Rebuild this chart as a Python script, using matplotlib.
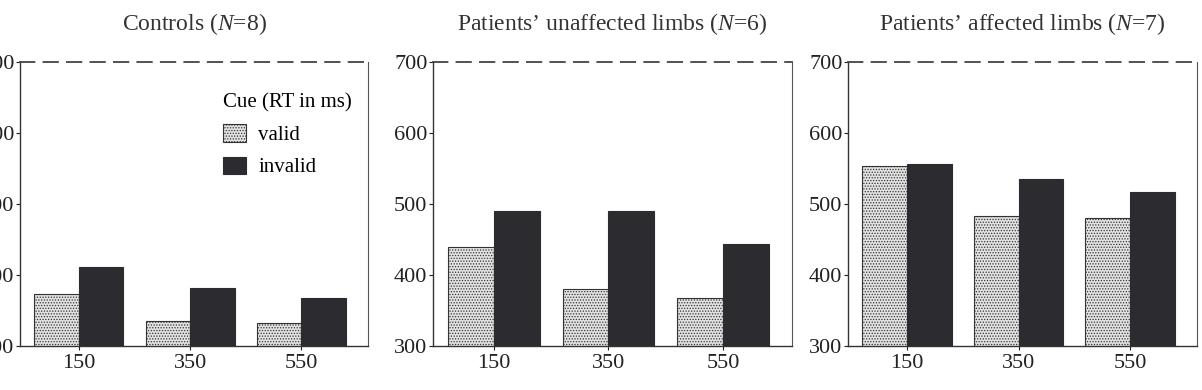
import matplotlib
matplotlib.use("Agg")
import matplotlib.pyplot as plt
import numpy as np

# SOA (ms) et temps de réaction
soa = ["150", "350", "550"]
titres = ["Controls ($\\it{N}$=8)",
          "Patients\u2019 unaffected limbs ($\\it{N}$=6)",
          "Patients\u2019 affected limbs ($\\it{N}$=7)"]
valid_controls = [373, 335, 332]
invalid_controls = [411, 382, 367]
valid_unaffected = [439, 380, 368]
invalid_unaffected = [490, 490, 443]
valid_affected = [553, 483, 480]
invalid_affected = [556, 535, 517]
yticks = [300, 400, 500, 600, 700]

plt.rcParams['font.family'] = ['Liberation Serif', 'DejaVu Serif']
plt.rcParams['mathtext.fontset'] = 'custom'
plt.rcParams['mathtext.it'] = 'Liberation Serif:italic'
plt.rcParams['mathtext.rm'] = 'Liberation Serif'
plt.rcParams['hatch.color'] = '#8a8a8a'
plt.rcParams['hatch.linewidth'] = 0.6

fig = plt.figure(figsize=(12.02, 3.9), dpi=100)
W, H = 1202, 390
cadres = [(20, 368), (433, 792), (848, 1197)]
haut, bas = 62, 346

donnees = [(valid_controls, invalid_controls),
           (valid_unaffected, invalid_unaffected),
           (valid_affected, invalid_affected)]

x = np.arange(1, 4)
larg = 0.4
for i, ((g, d), (v, inv)) in enumerate(zip(cadres, donnees)):
    ax = fig.add_axes([g / W, 1 - bas / H, (d - g) / W, (bas - haut) / H])
    ax.bar(x - larg / 2, v, larg, color='#e2e2e2', hatch='......',
           edgecolor='#333333', linewidth=0.8, label='valid')
    ax.bar(x + larg / 2, inv, larg, color='#2b2b30',
           edgecolor='#2b2b30', linewidth=0.8, label='invalid')
    ax.set_ylim(300, 700)
    ax.set_xlim(0.47, 3.6)
    ax.set_xticks(x)
    ax.set_xticklabels(soa)
    ax.set_yticks(yticks)
    ax.tick_params(axis='both', labelsize=16, length=3, width=0.8,
                   direction='out', colors='#222222', pad=3)
    ax.tick_params(axis='y', pad=1)
    for s in ['left', 'bottom']:
        ax.spines[s].set_linewidth(1.0)
        ax.spines[s].set_color('#333333')
    ax.spines['top'].set_linestyle((0, (8, 5)))
    ax.spines['top'].set_linewidth(1.3)
    ax.spines['top'].set_color('#444444')
    ax.spines['right'].set_linewidth(0.8)
    ax.spines['right'].set_color('#555555')
    ax.set_title(titres[i], fontsize=17, color='#333333', pad=23)
    if i == 0:
        leg = ax.legend(title='Cue (RT in ms)', loc='upper right', frameon=False,
                        fontsize=15, title_fontsize=15, handlelength=1.1,
                        handleheight=0.9, handletextpad=0.6, labelspacing=0.55,
                        borderaxespad=0.3, bbox_to_anchor=(0.995, 0.94))
        leg._legend_box.align = 'left'

fig.savefig('out.png', dpi=100)
